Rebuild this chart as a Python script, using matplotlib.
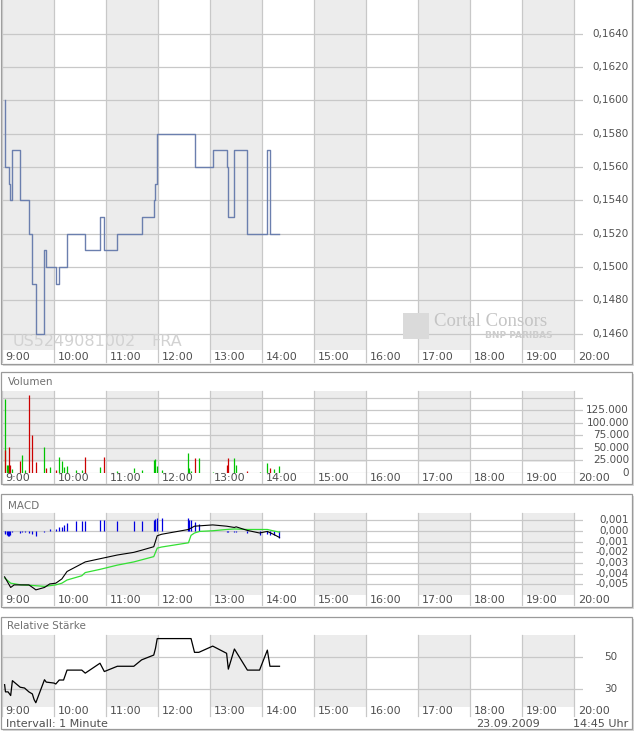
import matplotlib
matplotlib.use('Agg')
import matplotlib.pyplot as plt
import matplotlib.transforms as mtransforms
from matplotlib.patches import Rectangle
from matplotlib.lines import Line2D

W, H = 640, 736

# times are minutes after 9:00
hour_labels = ['9:00', '10:00', '11:00', '12:00', '13:00', '14:00', '15:00',
               '16:00', '17:00', '18:00', '19:00', '20:00']

price_t = [3, 4, 8, 9, 12, 21, 31, 35, 39, 49, 51, 62, 66, 75, 96, 113, 118, 133,
           161, 175, 177, 179, 222, 243, 259, 261, 268, 283, 306, 309, 320]
price_v = [0.1600, 0.1560, 0.1550, 0.1540, 0.1570, 0.1540, 0.1520, 0.1490, 0.1460,
           0.1510, 0.1500, 0.1490, 0.1500, 0.1520, 0.1510, 0.1530, 0.1510, 0.1520,
           0.1530, 0.1540, 0.1550, 0.1580, 0.1560, 0.1570, 0.1560, 0.1530, 0.1570,
           0.1520, 0.1570, 0.1520, 0.1520]
price_ticks = [0.1460, 0.1480, 0.1500, 0.1520, 0.1540, 0.1560, 0.1580, 0.1600,
               0.1620, 0.1640]

vol_t = [3, 4, 6, 7, 8, 9, 12, 21, 23, 26, 31, 35, 39, 49, 51, 55, 62, 66, 69, 71,
         75, 85, 92, 96, 113, 118, 133, 152, 161, 175, 177, 179, 184, 215, 216, 218,
         222, 227, 243, 259, 261, 268, 270, 283, 297, 306, 309, 314, 320]
vol_v = [147000, 45700, 15900, 15900, 51700, 15900, 8000, 23900, 35800, 6000,
         155000, 75600, 21900, 51700, 10000, 11900, 6000, 31800, 23900, 11900,
         13900, 6000, 6000, 31800, 11900, 31800, 4700, 10700, 6700, 26700,
         28700, 14700, 6700, 40700, 10700, 4700, 30000, 30000, 2700, 16700,
         30000, 30000, 16700, 4700, 2700, 20700, 10700, 8700, 14700]
vol_up = [1, 0, 1, 1, 0, 0, 1, 0, 1, 1, 0, 0, 0, 1, 0, 1, 0, 1, 1, 1,
          1, 1, 1, 0, 1, 0, 1, 1, 1, 1, 1, 1, 1, 1, 1, 1, 0, 1, 1, 0,
          0, 1, 1, 0, 1, 1, 0, 1, 1]
vol_grid = [0, 25000, 50000, 75000, 100000, 125000, 150000]
vol_ticks = [0, 25000, 50000, 75000, 100000, 125000]

# histogram at the trade minutes (vol_t)
macd_hist = [-0.0002, -0.00025, -0.0004, -0.00045, -0.00045, -0.0004, -0.0001,
             -0.00015, -0.00012, -0.0001, -0.00015, -0.00025, -0.00045, -0.0001,
             0.00005, 0.0002, 0.0002, 0.00035, 0.0004, 0.00055, 0.00075, 0.00094,
             0.00094, 0.00094, 0.00106, 0.00106, 0.00094, 0.00094, 0.00094,
             0.00106, 0.00112, 0.00125, 0.00125, 0.00122, 0.001, 0.00104, 0.0009,
             0.00067, 0.00005, -0.0001, -0.0001, -0.0001, -0.0001, -0.0002,
             -0.00035, -0.0003, -0.0004, -0.00035, -0.00065]
macd_t = [3, 10, 14, 31, 37, 39, 49, 55, 62, 69, 75, 96, 113, 133, 152, 161, 175,
          179, 184, 215, 222, 243, 259, 268, 270, 283, 297, 306, 309, 314, 320]
macd_v = [-0.0043, -0.0053, -0.00506, -0.00506, -0.0054, -0.00553, -0.0053,
          -0.00497, -0.0049, -0.0045, -0.0038, -0.0029, -0.0026, -0.00225, -0.0020,
          -0.0018, -0.00147, -0.00044, -0.0003, 0.00015, 0.00046, 0.00058, 0.00046,
          0.00034, 0.0004, 0.00006, -0.00018, -0.00003, -0.00015, -0.00034, -0.0006]
signal_t = [3, 10, 22, 33, 49, 62, 69, 75, 92, 96, 113, 133, 152, 175, 179, 184,
            215, 218, 222, 228, 243, 259, 268, 283, 306, 314, 320]
signal_v = [-0.0044, -0.0049, -0.00506, -0.0051, -0.0052, -0.00506, -0.0049,
            -0.0046, -0.0042, -0.0039, -0.0036, -0.0032, -0.0029, -0.0024, -0.0016,
            -0.0015, -0.0011, -0.0004, -0.00018, -0.00003, 0.00003, 0.00015, 0.0002,
            0.00015, 0.00015, 0.0, -0.0001]
macd_ticks = [0.001, 0.0, -0.001, -0.002, -0.003, -0.004, -0.005]

rsi_t = [3, 4, 7, 10, 12, 21, 26, 31, 35, 37, 39, 49, 51, 60, 62, 66, 71, 75, 92,
         96, 113, 118, 133, 152, 161, 175, 177, 179, 218, 222, 227, 243, 259, 261,
         268, 283, 297, 306, 309, 320]
rsi_v = [32.9, 28.4, 28.4, 26.1, 35.4, 31.3, 30.8, 28.4, 27.1, 23.6, 21.6, 36.0,
         34.5, 33.9, 33.3, 35.8, 35.8, 42.0, 42.0, 40.1, 46.3, 41.1, 44.4, 44.4,
         48.4, 51.4, 55.6, 61.7, 61.7, 53.1, 53.1, 57.0, 52.5, 42.6, 55.2, 42.0,
         42.0, 54.5, 44.4, 44.4]
rsi_ticks = [30, 50]

GRID = '#c8c8c8'
SHADE = '#ececec'
TXT = '#505050'
plt.rcParams['font.family'] = 'DejaVu Sans'

fig = plt.figure(figsize=(6.4, 7.36), dpi=100)
fig.patch.set_facecolor('white')


def panel_box(x0, y0, x1, y1):
    # shadow then frame
    fig.patches.append(Rectangle(((x0 + 2) / W, 1 - (y1 + 2) / H), (x1 - x0) / W, (y1 - y0) / H,
                                 transform=fig.transFigure, fc='#d9d9d9', ec='none', zorder=-2))
    fig.patches.append(Rectangle((x0 / W, 1 - y1 / H), (x1 - x0) / W, (y1 - y0) / H,
                                 transform=fig.transFigure, fc='white', ec='#9a9a9a', lw=0.9, zorder=-1))


def make_axes(y0, y1, ylim, ext, shade_from=0.0):
    ax = fig.add_axes([2 / W, 1 - y1 / H, 581 / W, (y1 - y0) / H])
    ax.set_facecolor('none')
    for s in ax.spines.values():
        s.set_visible(False)
    ax.set_xticks([])
    ax.set_yticks([])
    ax.set_xlim(0, 670)
    ax.set_ylim(*ylim)
    for h in range(0, 660, 120):
        ax.axvspan(h, h + 60, ymin=shade_from, ymax=1, color=SHADE, lw=0, zorder=0)
    trans = mtransforms.blended_transform_factory(ax.transData, ax.transAxes)
    for i, lab in enumerate(hour_labels):
        t = i * 60
        ax.add_line(Line2D([t, t], [-ext / (y1 - y0), 1], transform=trans, color=GRID,
                           lw=0.9, clip_on=False, zorder=1))
        tt = mtransforms.offset_copy(trans, fig=fig, x=3.5, y=-(ext - 5), units='dots')
        ax.text(t, 0, lab, transform=tt, ha='left', va='center', fontsize=8, color=TXT)
    return ax


def ylabels(ax, values, texts, xoff, ha):
    trans = mtransforms.blended_transform_factory(ax.transAxes, ax.transData)
    tt = mtransforms.offset_copy(trans, fig=fig, x=xoff, y=0, units='dots')
    for v, s in zip(values, texts):
        ax.text(1, v, s, transform=tt, ha=ha, va='center', fontsize=7.5, color=TXT)


# ---- price panel ----
panel_box(1, -2, 632, 364)
ax1 = make_axes(0, 350, (0.14502, 0.16602), 12)
for p in price_ticks:
    ax1.axhline(p, color=GRID, lw=0.9, zorder=1)
ax1.text(12, 0.1451, 'US5249081002', fontsize=11.5, color='#d2d2d2', ha='left', va='bottom', zorder=2)
ax1.text(172, 0.1451, 'FRA', fontsize=11.5, color='#d2d2d2', ha='left', va='bottom', zorder=2)
ax1.step(price_t, price_v, where='post', color='#6b7fae', lw=1.0, zorder=3)
ylabels(ax1, price_ticks, ['{:.4f}'.format(p).replace('.', ',') for p in price_ticks], 9, 'left')
# logo
fig.patches.append(Rectangle((403 / W, 1 - 339 / H), 26 / W, 26 / H, transform=fig.transFigure,
                             fc='#dadada', ec='none', zorder=5))
fig.text(434 / W, 1 - 321 / H, 'Cortal Consors', fontsize=13.5, family='Liberation Serif',
         color='#c4c4c4', ha='left', va='center')
fig.text(553 / W, 1 - 335 / H, 'BNP PARIBAS', fontsize=6.5, weight='bold',
         color='#cdcdcd', ha='right', va='center')

# ---- volume panel ----
panel_box(1, 372, 632, 484)
fig.text(8 / W, 1 - 382 / H, 'Volumen', fontsize=7.5, color='#707070', va='center')
ax2 = make_axes(391, 473, (0, 163350), 10, shade_from=0.134)
for v in vol_grid:
    ax2.axhline(v, color=GRID, lw=0.9, zorder=1)
ax2.vlines(vol_t, 0, vol_v, colors=['#00c400' if u else '#cc0000' for u in vol_up],
           lw=0.9, zorder=3)
ylabels(ax2, vol_ticks, ['{:,}'.format(v).replace(',', '.') for v in vol_ticks], 46, 'right')

# ---- MACD panel ----
panel_box(1, 494, 632, 607)
fig.text(8 / W, 1 - 506 / H, 'MACD', fontsize=7.5, color='#707070', va='center')
ax3 = make_axes(513, 595, (-0.00601, 0.0017), 10)
for v in macd_ticks:
    ax3.axhline(v, color=GRID, lw=0.9, zorder=1)
ax3.vlines(vol_t, 0, macd_hist, colors='#0000e0', lw=0.9, zorder=3)
ax3.plot(signal_t, signal_v, color='#33e033', lw=0.9, zorder=4)
ax3.plot(macd_t, macd_v, color='black', lw=0.8, zorder=5)
ylabels(ax3, macd_ticks, ['{:.3f}'.format(v).replace('.', ',').replace('-0,000', '0,000')
                          for v in macd_ticks], 46, 'right')

# ---- RSI panel ----
panel_box(1, 617, 632, 729)
fig.text(7 / W, 1 - 626 / H, 'Relative Stärke', fontsize=7.5, color='#707070', va='center')
ax4 = make_axes(635, 707, (18.94, 63.94), 9)
for v in rsi_ticks:
    ax4.axhline(v, color=GRID, lw=0.9, zorder=1)
ax4.plot(rsi_t, rsi_v, color='black', lw=0.9, zorder=3)
ylabels(ax4, rsi_ticks, [str(v) for v in rsi_ticks], 21, 'left')

fig.text(6 / W, 1 - 724 / H, 'Intervall: 1 Minute', fontsize=8, color=TXT, va='center')
fig.text(540 / W, 1 - 724 / H, '23.09.2009', fontsize=8, color=TXT, va='center', ha='right')
fig.text(628 / W, 1 - 724 / H, '14:45 Uhr', fontsize=8, color=TXT, va='center', ha='right')

fig.savefig('out.png', dpi=100)
